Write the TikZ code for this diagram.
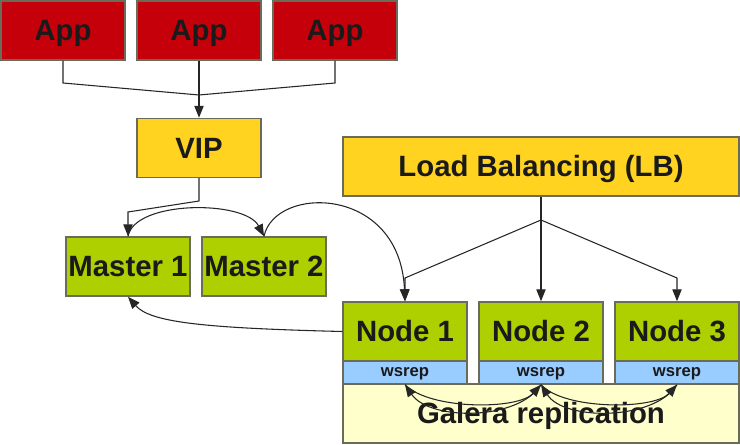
\documentclass[tikz,border=0pt]{standalone}
\usepackage{fontspec}
\setmainfont{Liberation Sans}
\usetikzlibrary{arrows.meta}
\definecolor{appred}{HTML}{C5000B}
\definecolor{vipy}{HTML}{FFD320}
\definecolor{mgreen}{HTML}{AECF00}
\definecolor{wblue}{HTML}{99CCFF}
\definecolor{gfill}{HTML}{FFFFCC}
\definecolor{bord}{HTML}{6B6B5A}
\definecolor{txt}{HTML}{1A1A1A}
\begin{document}
\begin{tikzpicture}[x=0.75pt,y=-0.75pt,
 box/.style={draw=bord,line width=1.1pt,inner sep=0pt,minimum width=93pt,minimum height=44.25pt,
   font=\fontsize{22}{26}\selectfont\bfseries,text=txt,text height=15.75pt,text depth=0pt},
 appbox/.style={box,fill=appred},
 ybox/.style={box,fill=vipy},
 gbox/.style={box,fill=mgreen},
 wbox/.style={box,fill=wblue,minimum height=17.25pt,font=\fontsize{12.5}{14}\selectfont\bfseries,
   text height=6.5pt},
 widebox/.style={box,minimum width=297pt},
 conn/.style={draw=black!85,line width=0.8pt,line join=miter},
 arr/.style={conn,-{Triangle[length=9pt,width=7pt]}}]
\useasboundingbox (0,0) rectangle (740,445);
% boxes
\node[appbox] (a1) at (63,30.5) {App};
\node[appbox] (a2) at (199,30.5) {App};
\node[appbox] (a3) at (335,30.5) {App};
\node[ybox] (vip) at (199,148) {VIP};
\node[gbox] (m1) at (128,266.5) {Master 1};
\node[gbox] (m2) at (264,266.5) {Master 2};
\node[ybox,widebox] (lb) at (541,166.5) {Load Balancing (LB)};
\node[gbox] (n1) at (405,331.5) {Node 1};
\node[gbox] (n2) at (541,331.5) {Node 2};
\node[gbox] (n3) at (677,331.5) {Node 3};
\node[widebox,fill=gfill,minimum height=44.25pt] (gal) at (541,413.5) {Galera replication};
\node[wbox] (w1) at (405,372.5) {wsrep};
\node[wbox] (w2) at (541,372.5) {wsrep};
\node[wbox] (w3) at (677,372.5) {wsrep};
% junction points
\coordinate (ja) at (199,95);
\coordinate (jv) at (128,212);
\coordinate (jl) at (541,220);
% app -> vip
\draw[conn] (a1.south) -- (63,83) -- (ja);
\draw[conn] (a3.south) -- (335,83) -- (ja);
\draw[arr] (a2.south) -- (vip.north);
% vip -> master 1
\draw[arr] (vip.south) -- (199,201) -- (jv) -- (m1.north);
% master 1 -> master 2
\draw[arr] (m1.north) .. controls (135,200) and (245,200) .. (m2.north);
% master 2 -> node 1
\draw[arr] (m2.north) .. controls (275,185) and (400,185) .. (n1.north);
% node 1 -> master 1
\draw[arr] (n1.west) .. controls (200,328) and (150,322) .. (m1.south);
% lb -> nodes
\draw[conn] (lb.south) -- (jl);
\draw[arr] (jl) -- (405,278) -- (n1.north);
\draw[arr] (jl) -- (n2.north);
\draw[arr] (jl) -- (677,278) -- (n3.north);
% galera replication
\draw[arr] (w1.south) .. controls (430,410) and (518,410) .. (w2.south);
\draw[arr] (w2.south) .. controls (518,421) and (430,421) .. (w1.south);
\draw[arr] (w2.south) .. controls (564,410) and (654,410) .. (w3.south);
\draw[arr] (w3.south) .. controls (654,421) and (564,421) .. (w2.south);
\end{tikzpicture}
\end{document}
